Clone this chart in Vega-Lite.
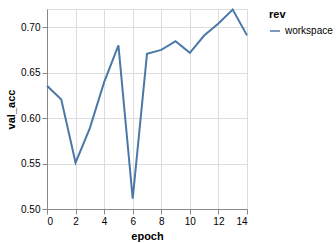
{
  "$schema": "https://vega.github.io/schema/vega-lite/v6.json",
  "width": 200,
  "height": 200,
  "data": {"values": [
    {"epoch": 0, "val_acc": 0.6355, "rev": "workspace"},
    {"epoch": 1, "val_acc": 0.6205, "rev": "workspace"},
    {"epoch": 2, "val_acc": 0.551, "rev": "workspace"},
    {"epoch": 3, "val_acc": 0.589, "rev": "workspace"},
    {"epoch": 4, "val_acc": 0.6396, "rev": "workspace"},
    {"epoch": 5, "val_acc": 0.680, "rev": "workspace"},
    {"epoch": 6, "val_acc": 0.5115, "rev": "workspace"},
    {"epoch": 7, "val_acc": 0.6707, "rev": "workspace"},
    {"epoch": 8, "val_acc": 0.675, "rev": "workspace"},
    {"epoch": 9, "val_acc": 0.6846, "rev": "workspace"},
    {"epoch": 10, "val_acc": 0.6718, "rev": "workspace"},
    {"epoch": 11, "val_acc": 0.6908, "rev": "workspace"},
    {"epoch": 12, "val_acc": 0.704, "rev": "workspace"},
    {"epoch": 13, "val_acc": 0.7194, "rev": "workspace"},
    {"epoch": 14, "val_acc": 0.691, "rev": "workspace"}
  ]},
  "mark": "line",
  "encoding": {
    "x": {"field": "epoch", "type": "quantitative"},
    "y": {"field": "val_acc", "type": "quantitative", "scale": {"domain": [0.5, 0.72], "nice": false, "zero": false}},
    "color": {"field": "rev", "type": "nominal"}
  }
}
